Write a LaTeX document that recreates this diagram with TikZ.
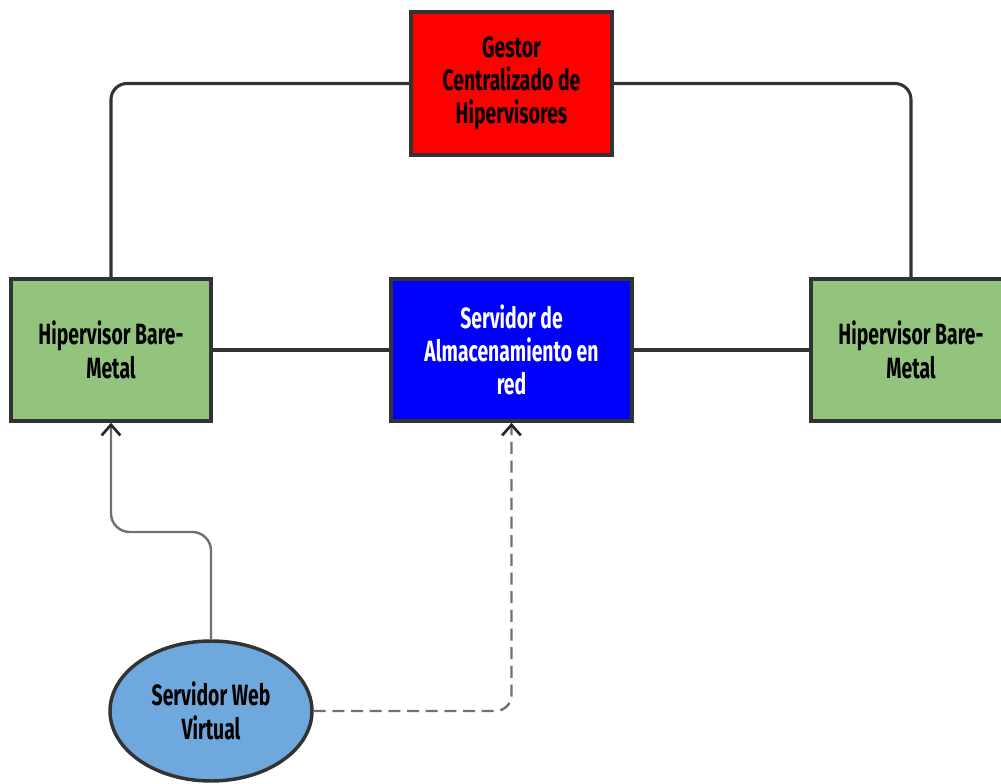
\documentclass[tikz,border=0pt]{standalone}
\usepackage{fontspec}
\newfontfamily\lab{Fira Sans}[FakeStretch=0.66]
\usetikzlibrary{arrows.meta,shapes.geometric}
\definecolor{gred}{HTML}{FF0000}
\definecolor{ggreen}{HTML}{93C47D}
\definecolor{gblue}{HTML}{0000FF}
\definecolor{gell}{HTML}{6FA8DC}
\definecolor{gborder}{HTML}{333333}
\definecolor{ggray}{HTML}{707070}
\tikzset{
  box/.style={draw=gborder, line width=2.6pt, inner sep=0pt, align=center,
    font=\lab\bfseries\fontsize{22}{25}\selectfont},
  conn/.style={draw=gborder, line width=2.3pt, rounded corners=12pt},
  tipbarb/.style={-{Straight Barb[length=8pt,width=14pt,line width=2pt,color=black!85]}},
  garrow/.style={draw=ggray, line width=1.8pt, rounded corners=14pt, tipbarb},
  darrow/.style={draw=ggray, line width=1.8pt, dash pattern=on 9pt off 5pt, rounded corners=12pt, tipbarb}
}
\begin{document}
\begin{tikzpicture}[x=0.75pt,y=-0.75pt]
\useasboundingbox (0,0) rectangle (1001,784);
\node[box, fill=gred, minimum width=150.75pt, minimum height=107.25pt] (G) at (511.5,83.5) {Gestor\\Centralizado de\\Hipervisores};
\node[box, fill=ggreen, minimum width=150pt, minimum height=106.5pt] (H1) at (111,350) {Hipervisor Bare-\\Metal};
\node[box, fill=ggreen, minimum width=150pt, minimum height=106.5pt] (H2) at (911,350) {Hipervisor Bare-\\Metal};
\node[box, fill=gblue, text=white, minimum width=180.75pt, minimum height=106.5pt] (B) at (511.5,350) {Servidor de\\Almacenamiento en\\red};
\node[box, ellipse, fill=gell, minimum width=151.5pt, minimum height=105pt] (E) at (211,711) {Servidor Web\\Virtual};
\draw[conn] (G.west) -| (H1.north);
\draw[conn] (G.east) -| (H2.north);
\draw[conn] (H1.east) -- (B.west);
\draw[conn] (B.east) -- (H2.west);
\draw[garrow] (E.north) -- (211,532) -| (H1.south);
\draw[darrow] (E.east) -| (B.south);
\end{tikzpicture}
\end{document}
